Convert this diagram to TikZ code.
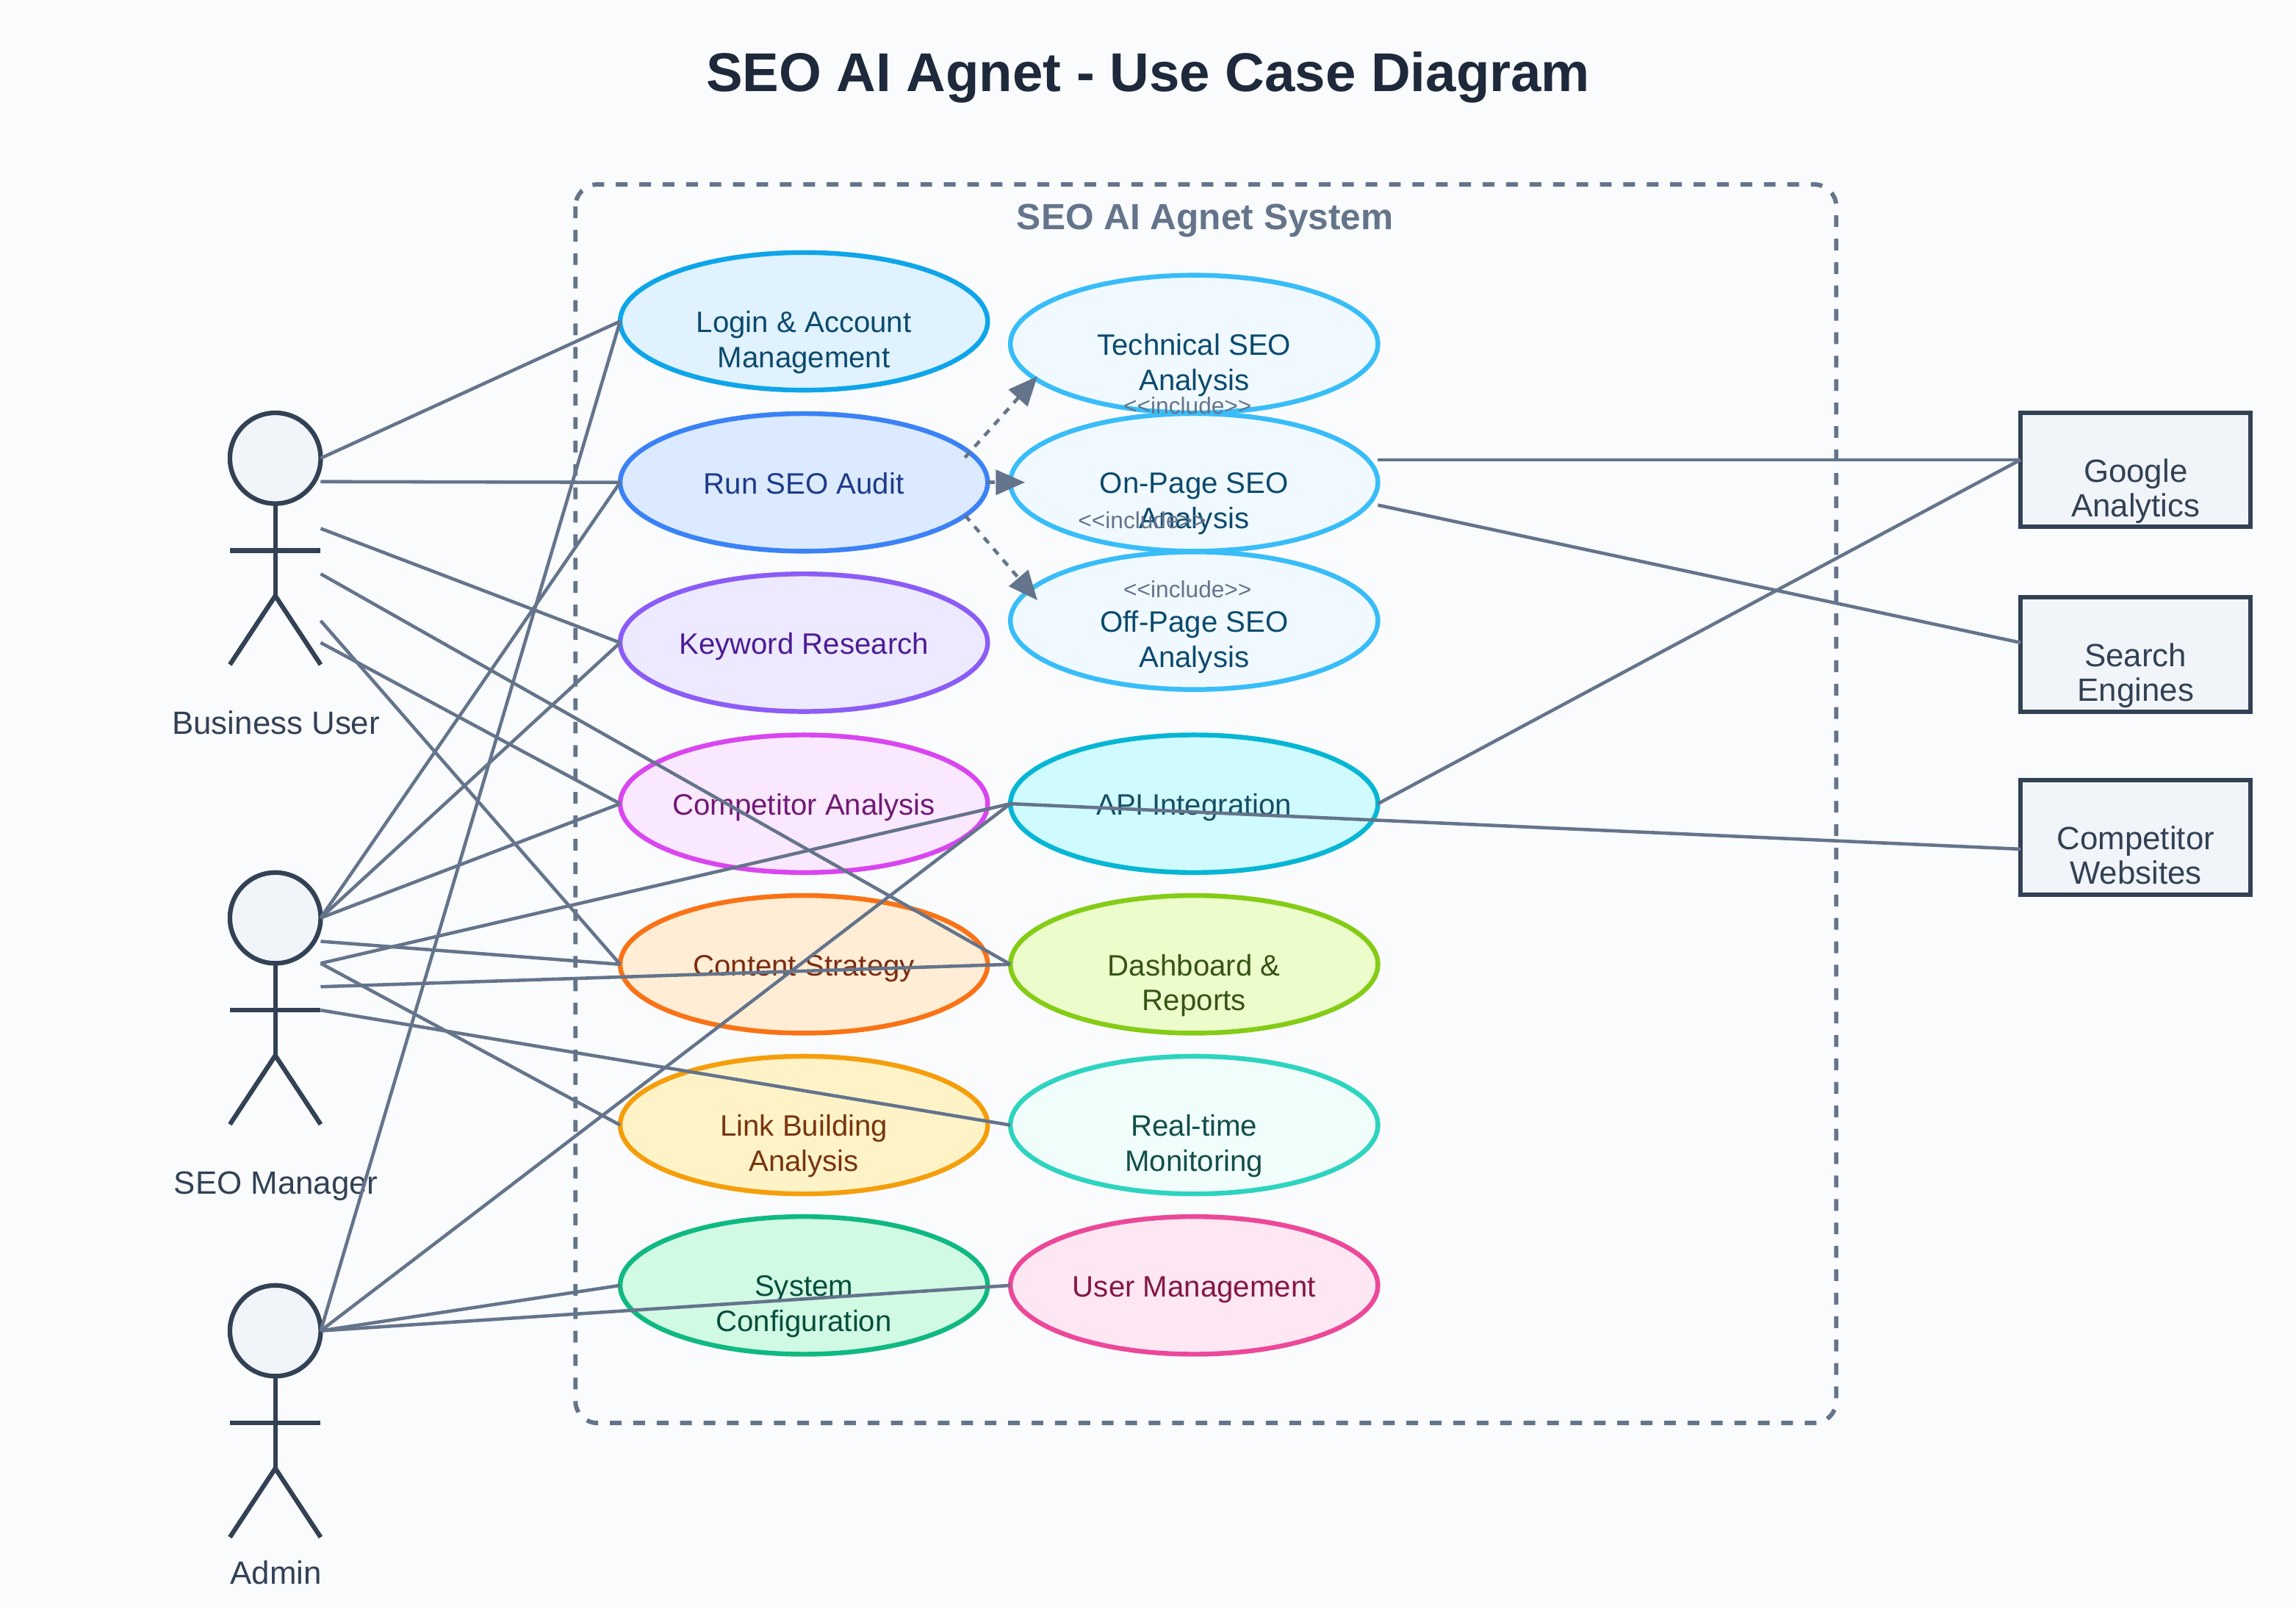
\documentclass[tikz,border=0pt]{standalone}
\usepackage{fontspec}
\setmainfont{Liberation Sans}
\usetikzlibrary{calc,arrows.meta,shapes.geometric,positioning}
\definecolor{pagebg}{HTML}{FAFBFC}
\definecolor{edgegray}{HTML}{64748B}
\definecolor{slatedark}{HTML}{334155}
\definecolor{slatefill}{HTML}{F1F5F9}
\definecolor{titlecol}{HTML}{1E293B}
\tikzset{
    use case/.style={
        draw,ellipse,line width=0.92pt,
        minimum width=2.51cm,minimum height=0.94cm,
        inner sep=0pt,outer sep=0pt
    },
    case text/.style={
        align=center,inner sep=0pt,
        font=\fontsize{5.74}{6.83}\selectfont,
        execute at begin node=\strut,execute at end node=\strut
    },
    actor head/.style={
        draw=slatedark,circle,line width=0.9pt,fill=slatefill,
        minimum size=0.62cm,inner sep=0pt,outer sep=0pt
    },
    actor line/.style={draw=slatedark,line width=0.9pt},
    actor text/.style={
        text=slatedark,inner sep=0pt,anchor=base,
        font=\fontsize{6.26}{7.5}\selectfont
    },
    ext system/.style={
        draw=slatedark,rectangle,line width=0.85pt,fill=slatefill,
        minimum width=1.57cm,minimum height=0.78cm,
        inner sep=0pt,outer sep=0pt
    },
    ext text/.style={
        align=center,inner sep=0pt,text=slatedark,
        font=\fontsize{6.26}{6.71}\selectfont,
        execute at begin node=\strut,execute at end node=\strut
    },
    assoc/.style={draw=edgegray,line width=0.65pt},
    incl/.style={
        draw=edgegray,line width=0.65pt,dash pattern=on 0.05cm off 0.05cm,
        -{Triangle[length=0.2cm,width=0.17cm]}
    },
    incl text/.style={
        text=edgegray,inner sep=0pt,
        font=\fontsize{4.52}{5.5}\selectfont
    }
}

\begin{document}
\begin{tikzpicture}
\useasboundingbox[fill=pagebg] (0,0) rectangle (15.68,-10.98);

\node[text=titlecol,inner sep=0pt,font=\fontsize{10.62}{12}\bfseries\selectfont] (title) at (7.84,-0.53) {SEO AI Agnet - Use Case Diagram};

% system boundary
\draw[edgegray,line width=0.85pt,dash pattern=on 0.08cm off 0.08cm,rounded corners=0.15cm] (3.93,-1.26) rectangle (12.54,-9.72);
\node[text=edgegray,inner sep=0pt,font=\fontsize{7.08}{8}\bfseries\selectfont] (systitle) at (8.23,-1.51) {SEO AI Agnet System};

% use cases
\foreach \id/\x/\y/\fc/\dc in {
    login/5.49/2.195/E0F2FE/0EA5E9,
    audit/5.49/3.295/DBEAFE/3B82F6,
    keyword/5.49/4.39/EDE9FE/8B5CF6,
    compet/5.49/5.49/FAE8FF/D946EF,
    content/5.49/6.587/FFEDD5/F97316,
    linkb/5.49/7.685/FEF3C7/F59E0B,
    sysconf/5.49/8.78/D1FAE5/10B981,
    tech/8.155/2.35/F0F9FF/38BDF8,
    onpage/8.155/3.295/F0F9FF/38BDF8,
    offpage/8.155/4.24/F0F9FF/38BDF8,
    api/8.155/5.49/CFFAFE/06B6D4,
    dash/8.155/6.587/ECFCCB/84CC16,
    realtime/8.155/7.685/F0FDFA/2DD4BF,
    usermgmt/8.155/8.78/FCE7F3/EC4899}
{
    \definecolor{fc}{HTML}{\fc}
    \definecolor{dc}{HTML}{\dc}
    \node[use case,fill=fc,draw=dc] (\id) at (\x,-\y) {};
}

\foreach \id/\sh/\tc/\txt in {
    login/-0.16/0C4A6E/{Login \& Account\\Management},
    audit/-0.03/1E3A8A/{Run SEO Audit},
    keyword/-0.03/4C1D95/{Keyword Research},
    compet/-0.03/701A75/{Competitor Analysis},
    content/-0.03/7C2D12/{Content Strategy},
    linkb/-0.16/78350F/{Link Building\\Analysis},
    sysconf/-0.16/064E3B/{System\\Configuration},
    tech/-0.16/0C4A6E/{Technical SEO\\Analysis},
    onpage/-0.16/0C4A6E/{On-Page SEO\\Analysis},
    offpage/-0.16/0C4A6E/{Off-Page SEO\\Analysis},
    api/-0.03/164E63/{API Integration},
    dash/-0.16/365314/{Dashboard \&\\Reports},
    realtime/-0.16/134E4A/{Real-time\\Monitoring},
    usermgmt/-0.03/831843/{User Management}}
{
    \definecolor{tc}{HTML}{\tc}
    \node[case text,text=tc] (\id text) at ([yshift=\sh cm]\id.center) {\txt};
}

% actors
\foreach \actor/\y/\ly/\lbl in {buser/3.13/5.015/Business User,seomgr/6.27/8.155/SEO Manager,admin/9.09/10.82/Admin} {
    \node[actor head] (\actor) at (1.88,-\y) {};
    \draw[actor line] (\actor.south) -- ++(0,-0.63) coordinate (\actor hip);
    \draw[actor line] ($(\actor.south)+(-0.31,-0.32)$) -- ($(\actor.south)+(0.31,-0.32)$);
    \draw[actor line] ($(\actor hip)+(-0.31,-0.47)$) -- (\actor hip) -- ($(\actor hip)+(0.31,-0.47)$);
    \node[actor text] (\actor text) at (1.885,-\ly) {\lbl};
}

% external systems
\foreach \id/\y/\txt in {ganalytics/3.21/{Google\\Analytics},sengines/4.47/{Search\\Engines},cweb/5.72/{Competitor\\Websites}} {
    \node[ext system] (\id) at (14.585,-\y) {};
    \node[ext text] (\id text) at ([yshift=-0.156cm]\id.center) {\txt};
}

% where the lines leave the actors
\coordinate (bu1) at (2.19,-3.29);
\coordinate (bu2) at (2.19,-3.61);
\coordinate (bu3) at (2.19,-3.92);
\coordinate (bu4) at (2.19,-4.24);
\coordinate (bu5) at (2.19,-4.39);
\coordinate (sm1) at (2.19,-6.43);
\coordinate (sm2) at (2.19,-6.58);
\coordinate (sm3) at (2.19,-6.74);
\coordinate (sm4) at (2.19,-6.90);
\coordinate (op1) at ($(onpage.east)+(0,0.155)$);
\coordinate (op2) at ($(onpage.east)+(0,-0.155)$);
\coordinate (ga1) at ($(ganalytics.west)+(0,0.07)$);
\coordinate (se1) at ($(sengines.west)+(0,0.08)$);
\coordinate (cw1) at ($(cweb.west)+(0,-0.08)$);

\foreach \from/\to in {
    buser.east/login.west,bu1/audit.west,bu2/keyword.west,bu3/dash.west,
    bu4/content.west,bu5/compet.west,
    seomgr.east/audit.west,seomgr.east/keyword.west,seomgr.east/compet.west,
    sm1/content.west,sm2/api.west,sm2/linkb.west,sm3/dash.west,sm4/realtime.west,
    admin.east/login.west,admin.east/api.west,admin.east/sysconf.west,admin.east/usermgmt.west,
    op1/ga1,op2/se1,api.east/ga1,api.west/cw1}
    \draw[assoc] (\from) -- (\to);

% include relations
\coordinate (inc1) at ($(audit.center)+(1.10,0.17)$);
\coordinate (inc2) at ($(audit.center)+(1.10,-0.225)$);
\coordinate (tip1) at ($(tech.center)+(-1.07,-0.22)$);
\coordinate (tip2) at ($(onpage.west)+(0.10,0)$);
\coordinate (tip3) at ($(offpage.center)+(-1.07,0.14)$);
\draw[incl] (inc1) -- (tip1);
\draw[incl] (audit.east) -- (tip2);
\draw[incl] (inc2) -- (tip3);
\node[incl text] (incl a) at (8.11,-2.77) {<{}<include>{}>};
\node[incl text] (incl b) at (7.80,-3.555) {<{}<include>{}>};
\node[incl text] (incl c) at (8.11,-4.025) {<{}<include>{}>};
\end{tikzpicture}
\end{document}
